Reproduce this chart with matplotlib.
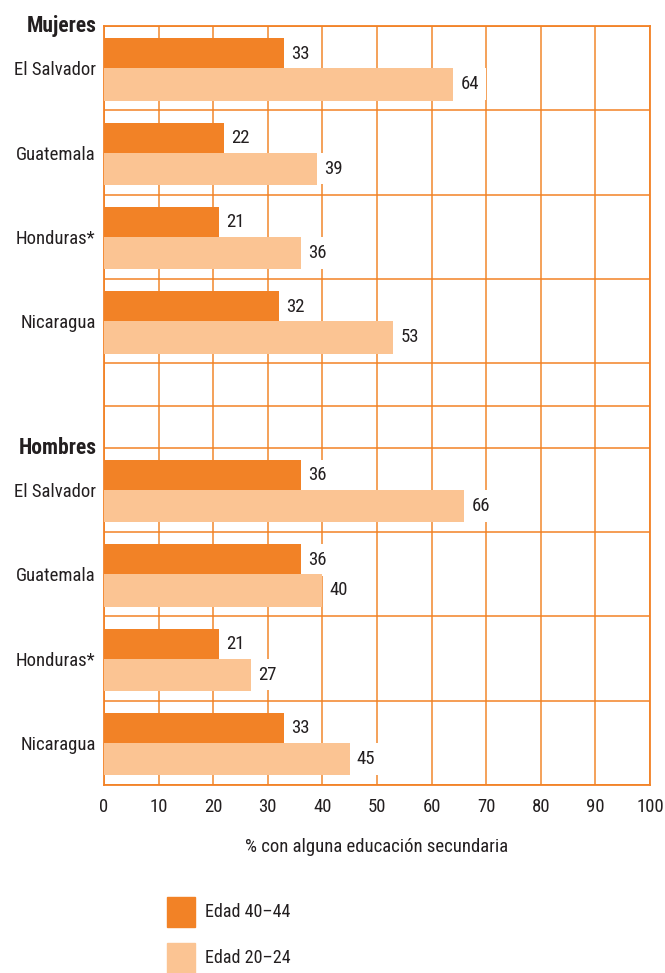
import matplotlib.pyplot as plt
from matplotlib.patches import Rectangle

paises = ["El Salvador", "Guatemala", "Honduras*", "Nicaragua"]
grupos = ["Mujeres", "Hombres"]
mujeres_40_44 = [33, 22, 21, 32]
mujeres_20_24 = [64, 39, 36, 53]
hombres_40_44 = [36, 36, 21, 33]
hombres_20_24 = [66, 40, 27, 45]
leyenda = ["Edad 40–44", "Edad 20–24"]
xticks = list(range(0, 101, 10))

naranja = "#F28226"
claro = "#FBC493"
linea = "#F39A4C"
texto = "#231F20"
plt.rcParams["font.family"] = ["Roboto Condensed", "Liberation Sans Narrow",
                               "Roboto", "DejaVu Sans"]

fig = plt.figure(figsize=(6.65, 9.73), dpi=100)
ax = fig.add_axes([104 / 665, 1 - 785 / 973, 546 / 665, 759 / 973])

# posiciones: Mujeres en 1,3,5,7 ; Hombres en 11,13,15,17
pos_m = [1, 3, 5, 7]
pos_h = [11, 13, 15, 17]

def barras(pos, v1, v2):
    ax.barh([p - 0.355 for p in pos], v1, height=0.71, color=naranja, zorder=3)
    ax.barh([p + 0.385 for p in pos], v2, height=0.77, color=claro, zorder=3)
    # etiquetas con fondo blanco por encima de la rejilla, por debajo de las barras
    for p, a, b in zip(pos, v1, v2):
        ax.text(a + 1.3, p - 0.34, str(a), va="center", ha="left", fontsize=13.5,
                color=texto, zorder=2,
                bbox=dict(facecolor="white", edgecolor="none", pad=5))
        ax.text(b + 1.3, p + 0.38, str(b), va="center", ha="left", fontsize=13.5,
                color=texto, zorder=2,
                bbox=dict(facecolor="white", edgecolor="none", pad=5))

barras(pos_m, mujeres_40_44, mujeres_20_24)
barras(pos_h, hombres_40_44, hombres_20_24)

ax.set_xlim(0, 100)
ax.set_ylim(18, 0)
ax.set_xticks(xticks)
ax.set_xticklabels([str(t) for t in xticks], fontsize=13.5, color=texto)
ax.set_yticks(pos_m + pos_h)
ax.set_yticklabels(paises + paises, fontsize=13.5, color=texto)
ax.set_yticks(range(0, 19), minor=True)
ax.tick_params(axis="both", which="both", length=0)
ax.tick_params(axis="x", pad=9)
ax.tick_params(axis="y", pad=6)
ax.grid(True, axis="x", which="major", color=linea, linewidth=1.3)
ax.grid(True, axis="y", which="minor", color=naranja, linewidth=1.1)
ax.set_axisbelow(True)
for lado in ["top", "bottom", "right", "left"]:
    ax.spines[lado].set_color(naranja)
    ax.spines[lado].set_linewidth(1.3)

for g, y in zip(grupos, [0, 10]):
    ax.text(-1.4, y, g, ha="right", va="center", fontsize=15.5,
            fontweight="bold", color=texto)

ax.set_xlabel("% con alguna educación secundaria", fontsize=13.5,
              color=texto, labelpad=16)

# leyenda
for i, (lab, col) in enumerate(zip(leyenda, [naranja, claro])):
    y0 = 1 - (927 + i * 46) / 973
    fig.patches.append(Rectangle((167 / 665, y0), 28 / 665, 30 / 973,
                                 transform=fig.transFigure, color=col))
    fig.text(205 / 665, y0 + 15 / 973, lab, va="center", ha="left",
             fontsize=13, color=texto)

fig.savefig("out.png", dpi=100)
